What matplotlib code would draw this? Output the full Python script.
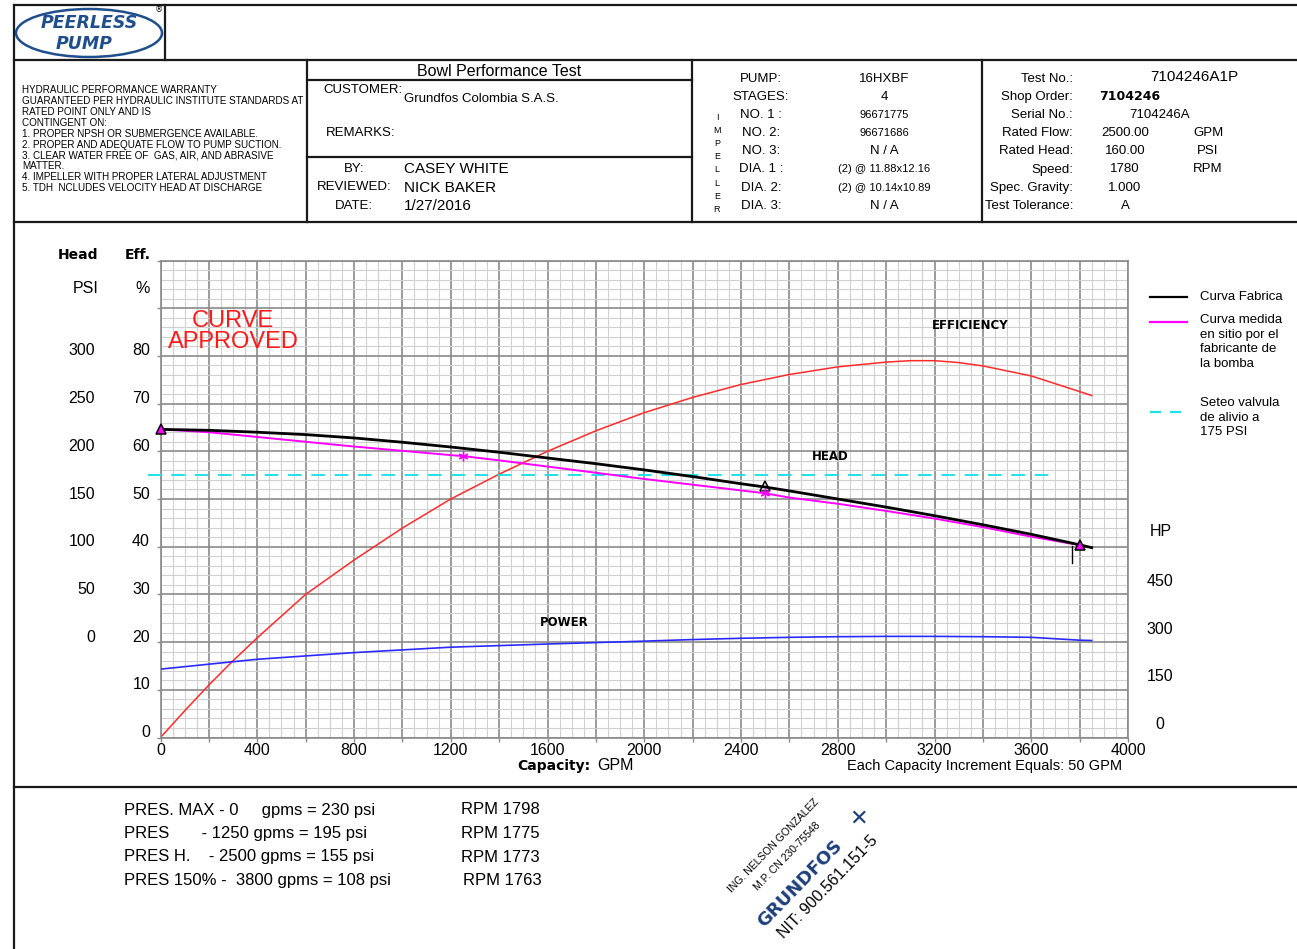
import matplotlib
matplotlib.use('Agg')
import matplotlib.pyplot as plt
import matplotlib.transforms as mtrans
from matplotlib.lines import Line2D
from matplotlib.patches import Ellipse
from matplotlib.ticker import MultipleLocator, FuncFormatter

W, H = 1297, 949
NARROW = ['Liberation Sans Narrow', 'Liberation Sans', 'DejaVu Sans']
BOLD = ['DejaVu Sans']
plt.rcParams['font.family'] = NARROW

# ---- curve data ----
# factory head curve, PSI
gpm_fab = [0, 200, 400, 600, 800, 1000, 1200, 1400, 1600, 1800, 2000, 2200, 2400, 2500,
           2600, 2800, 3000, 3200, 3400, 3600, 3800, 3850]
head_fab = [223, 222, 220, 217.5, 214, 209.5, 204.5, 199, 193, 187, 180.5, 173.5, 166, 162.5,
            158.5, 150, 141.5, 132.5, 123, 113, 102, 99]
# head measured on site, PSI
gpm_meas = [0, 200, 400, 600, 800, 1000, 1200, 1250, 1400, 1600, 1800, 2000, 2200, 2400, 2500,
            2600, 2800, 3000, 3200, 3400, 3600, 3800]
head_meas = [223, 220, 215, 210, 205, 200.5, 196, 195, 190.5, 184, 177.5, 171, 165, 159, 156,
             151.5, 145, 137.5, 129.5, 120.5, 110.5, 101.7]
# efficiency, %
gpm_eff = [0, 100, 200, 300, 400, 600, 800, 1000, 1200, 1400, 1600, 1800, 2000, 2200, 2400, 2600,
           2800, 3000, 3100, 3200, 3300, 3400, 3600, 3850]
eff = [0, 5.6, 11, 16.1, 20.9, 30, 37.2, 43.9, 50, 55.2, 60, 64.3, 68.1, 71.3, 74.0, 76.1,
       77.7, 78.7, 79.0, 79.0, 78.6, 77.9, 75.8, 71.7]
# bowl power, HP
gpm_pow = [0, 400, 800, 1200, 1600, 2000, 2200, 2400, 2600, 2800, 3000, 3200, 3400, 3600, 3800, 3850]
power_hp = [215, 246, 267, 284, 294, 303, 308, 312, 315, 317, 318, 318, 317, 315, 306, 305]

# test points
tri_gpm = [0, 2500, 3800]
tri_head = [223, 164, 101.7]
tri_face = ['#ff00ff', 'none', '#ff00ff']
star_gpm = [1250, 2500]
star_head = [195, 156]
tick_gpm = [3767, 3767]
tick_head = [101, 83]

relief_psi = 175
relief_gpm = [-50, 3690]

head_ticks = [0, 50, 100, 150, 200, 250, 300]
eff_ticks = [0, 10, 20, 30, 40, 50, 60, 70, 80]
hp_ticks = [0, 150, 300, 450]

left_notes = ['HYDRAULIC PERFORMANCE WARRANTY',
              'GUARANTEED PER HYDRAULIC INSTITUTE STANDARDS AT',
              'RATED POINT ONLY AND IS',
              'CONTINGENT ON:',
              '1. PROPER NPSH OR SUBMERGENCE AVAILABLE.',
              '2. PROPER AND ADEQUATE FLOW TO PUMP SUCTION.',
              '3. CLEAR WATER FREE OF  GAS, AIR, AND ABRASIVE',
              'MATTER.',
              '4. IMPELLER WITH PROPER LATERAL ADJUSTMENT',
              '5. TDH  NCLUDES VELOCITY HEAD AT DISCHARGE']
pump_labels = ['PUMP:', 'STAGES:', 'NO. 1 :', 'NO. 2:', 'NO. 3:', 'DIA. 1 :', 'DIA. 2:', 'DIA. 3:']
pump_values = ['16HXBF', '4', '96671775', '96671686', 'N / A', '(2) @ 11.88x12.16',
               '(2) @ 10.14x10.89', 'N / A']
test_labels = ['Test No.:', 'Shop Order:', 'Serial No.:', 'Rated Flow:', 'Rated Head:', 'Speed:',
               'Spec. Gravity:', 'Test Tolerance:']
test_values = ['', '', '7104246A', '2500.00', '160.00', '1780', '1.000', 'A']
test_units = ['', '', '', 'GPM', 'PSI', 'RPM', '', '']
pres_lines = ['PRES. MAX - 0     gpms = 230 psi',
              'PRES       - 1250 gpms = 195 psi',
              'PRES H.    - 2500 gpms = 155 psi',
              'PRES 150% -  3800 gpms = 108 psi']
rpm_lines = ['RPM 1798', 'RPM 1775', 'RPM 1773', 'RPM 1763']


def fx(px):
    return px / W


def fy(py):
    return 1 - py / H


fig = plt.figure(figsize=(W / 100, H / 100), dpi=100)


def hline(x0, x1, y, lw=1.6, color='#1a1a1a', ls='-'):
    fig.add_artist(Line2D([fx(x0), fx(x1)], [fy(y), fy(y)], lw=lw, color=color, ls=ls,
                          transform=fig.transFigure))


def vline(x, y0, y1, lw=1.6, color='#1a1a1a'):
    fig.add_artist(Line2D([fx(x), fx(x)], [fy(y0), fy(y1)], lw=lw, color=color,
                          transform=fig.transFigure))


def txt(x, y, s, size=9, ha='left', va='center', **kw):
    fig.text(fx(x), fy(y), s, fontsize=size, ha=ha, va=va, **kw)


# ---- page frame ----
hline(14, W, 5)
vline(14, 5, H)
vline(165, 5, 60)
hline(14, W, 60)
hline(14, W, 222)
vline(307, 60, 222)
vline(692, 60, 222)
vline(982, 60, 222)
hline(307, 692, 80)
hline(307, 692, 157)
hline(14, W, 787)

# ---- logo ----
blue = '#1f4e8c'
fig.add_artist(Ellipse((fx(89), fy(33)), 146 / W, 48 / H, fill=False, ec=blue, lw=1.8,
                       transform=fig.transFigure))
txt(89, 23, 'PEERLESS', size=12.5, ha='center', color=blue, weight='bold', style='italic',
    family=BOLD)
txt(84, 44, 'PUMP', size=12.5, ha='center', color=blue, weight='bold', style='italic',
    family=BOLD)
txt(159, 10, '®', size=6, ha='center', family=BOLD)

# ---- header text ----
for i, s in enumerate(left_notes):
    txt(22, 90 + i * 10.9, s, size=7.1)
txt(499, 71, 'Bowl Performance Test', size=11.5, ha='center')
txt(323, 90, 'CUSTOMER:', size=9.5)
txt(404, 99, 'Grundfos Colombia S.A.S.', size=9.5)
txt(326, 133, 'REMARKS:', size=9.5)
for i, (a, b) in enumerate([('BY:', 'CASEY WHITE'), ('REVIEWED:', 'NICK BAKER'),
                            ('DATE:', '1/27/2016')]):
    txt(354, 169 + i * 18.5, a, size=9.5, ha='center')
    txt(404, 169 + i * 18.5, b, size=11)

for i, (a, b) in enumerate(zip(pump_labels, pump_values)):
    y = 79 + i * 18.1
    txt(761, y, a, size=9.5, ha='center')
    txt(884, y, b, size=8 if i in (2, 3, 5, 6) else 9.5, ha='center')
for i, ch in enumerate('IMPELLER'):
    txt(717, 117 + i * 13.2, ch, size=6.5, ha='center')

for i, (a, b, c) in enumerate(zip(test_labels, test_values, test_units)):
    y = 79 + i * 18.1
    txt(1073, y, a, size=9.5, ha='right')
    txt(1125 if i > 2 else 1160, y, b, size=9.5, ha='center')
    txt(1208, y, c, size=9.5, ha='center')
txt(1194, 77, '7104246A1P', size=11, ha='center')
txt(1099, 97, '7104246', size=9, weight='bold', family=BOLD)

# ---- chart ----
ax = fig.add_axes([fx(160.5), fy(737.5), (1128 - 160.5) / W, (737.5 - 260.5) / H])
ax.set_xlim(0, 4000)
ax.set_ylim(0, 100)
ax.xaxis.set_major_locator(MultipleLocator(200))
ax.xaxis.set_minor_locator(MultipleLocator(50))
ax.yaxis.set_major_locator(MultipleLocator(10))
ax.yaxis.set_minor_locator(MultipleLocator(2))
ax.xaxis.set_major_formatter(FuncFormatter(lambda v, p: '%d' % v if int(v) % 400 == 0 else ''))
ax.grid(which='major', color='#8a8a8a', lw=1.2)
ax.grid(which='minor', color='#d0d0d0', lw=0.8)
ax.tick_params(which='major', direction='out', length=3, width=1, color='#8a8a8a',
               labelsize=11.5, pad=1, labelleft=False)
ax.tick_params(which='minor', length=0)
for sp in ax.spines.values():
    sp.set_color('#8a8a8a')
    sp.set_linewidth(1.2)
ax.set_axisbelow(True)

ax.plot(gpm_eff, eff, color='#ff2a2a', lw=1.1)

ax_hp = ax.twinx()
ax_hp.set_ylim(0, 1500)
ax_hp.axis('off')
ax_hp.plot(gpm_pow, power_hp, color='#2a2aff', lw=1.2)

ax_head = ax.twinx()
ax_head.set_ylim(-100, 400)
ax_head.set_xlim(0, 4000)
ax_head.axis('off')
ax_head.plot(relief_gpm, [relief_psi, relief_psi], color='#22e0e8', lw=1.4,
             dashes=(7, 5), clip_on=False)
ax_head.plot(gpm_meas, head_meas, color='#ff00ff', lw=1.4)
ax_head.plot(gpm_fab, head_fab, color='black', lw=2.0)
ax_head.plot(tick_gpm, tick_head, color='black', lw=1.0)
for g, h, f in zip(tri_gpm, tri_head, tri_face):
    ax_head.plot([g], [h], marker='^', ms=7, mfc=f, mec='black', mew=1.1, clip_on=False)
ax_head.plot(star_gpm, star_head, ls='none', marker=(6, 2, 0), ms=7, mec='#ff00ff', mew=1.0)

ax.text(3348, 86.3, 'EFFICIENCY', fontsize=8.5, weight='bold', family=BOLD,
        ha='center', va='center')
ax.text(2769, 59.0, 'HEAD', fontsize=8.5, weight='bold', family=BOLD, ha='center', va='center')
ax.text(1669, 24.2, 'POWER', fontsize=8.5, weight='bold', family=BOLD, ha='center', va='center')
ax.text(300, 85.2, 'CURVE\nAPPROVED', fontsize=17, color='#ff1a1a', ha='center', va='center',
        linespacing=0.95)

# axis number columns
t_head = mtrans.offset_copy(mtrans.blended_transform_factory(fig.transFigure, ax_head.transData),
                            fig=fig, y=5, units='dots')
for v in head_ticks:
    fig.text(fx(95), v, str(v), transform=t_head, ha='right', va='center', fontsize=11.5)
t_eff = mtrans.offset_copy(mtrans.blended_transform_factory(fig.transFigure, ax.transData),
                           fig=fig, y=5, units='dots')
for v in eff_ticks:
    fig.text(fx(150), v, str(v), transform=t_eff, ha='right', va='center', fontsize=11.5)
t_hp = mtrans.offset_copy(mtrans.blended_transform_factory(fig.transFigure, ax_hp.transData),
                          fig=fig, y=13, units='dots')
for v in hp_ticks:
    fig.text(fx(1160), v, str(v), transform=t_hp, ha='center', va='center', fontsize=11.5)
txt(1161, 531, 'HP', size=11.5, ha='center')
txt(78, 255, 'Head', size=10, ha='center', weight='bold', family=BOLD)
txt(86, 288, 'PSI', size=11.5, ha='center')
txt(138, 255, 'Eff.', size=10, ha='center', weight='bold', family=BOLD)
txt(143, 288, '%', size=11.5, ha='center')

txt(590, 766, 'Capacity:', size=10, ha='right', weight='bold', family=BOLD)
txt(597, 766, 'GPM', size=11.5)
txt(1122, 766, 'Each Capacity Increment Equals: 50 GPM', size=10.5, ha='right')

# ---- legend ----
hline(1150, 1187, 297, lw=1.6, color='black')
txt(1200, 297, 'Curva Fabrica', size=9.5)
hline(1150, 1187, 322, lw=1.6, color='#ff00ff')
txt(1200, 314, 'Curva medida\nen sitio por el\nfabricante de\nla bomba', size=9.5, va='top',
    linespacing=1.3)
fig.add_artist(Line2D([fx(1150), fx(1187)], [fy(412), fy(412)], lw=1.6, color='#22e0e8',
                      dashes=(5, 4), transform=fig.transFigure))
txt(1200, 397, 'Seteo valvula\nde alivio a\n175 PSI', size=9.5, va='top', linespacing=1.3)

# ---- bottom notes ----
for i, (a, b) in enumerate(zip(pres_lines, rpm_lines)):
    y = 810 + i * 23.5
    txt(124, y, a, size=12)
    txt(461 if i < 3 else 463, y, b, size=12)

# stamp
txt(774, 846, 'ING. NELSON GONZALEZ', size=7.5, ha='center', rotation=46, rotation_mode='anchor')
txt(787, 856, 'M.P. CN 230-75548', size=7.5, ha='center', rotation=46, rotation_mode='anchor')
txt(800, 884, 'GRUNDFOS', size=13, ha='center', rotation=46, rotation_mode='anchor',
    color='#1d3f7a', weight='bold', family=BOLD)
txt(828, 887, 'NIT: 900.561.151-5', size=11.5, ha='center', rotation=46, rotation_mode='anchor')
txt(858, 819, '✕', size=16, ha='center', color='#1d3f7a', family=BOLD)

fig.savefig('out.png', dpi=100)
